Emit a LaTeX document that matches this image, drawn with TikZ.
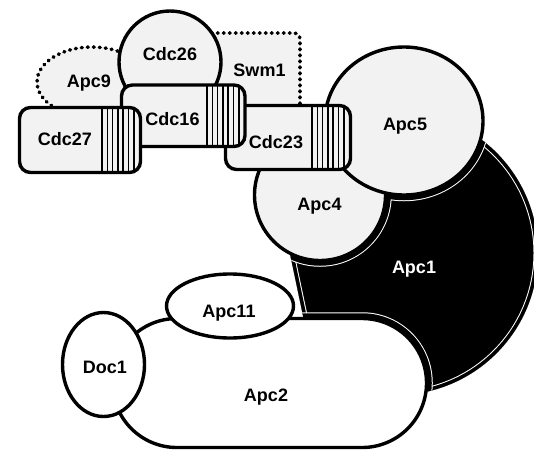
\documentclass[tikz,border=0pt]{standalone}
\usepackage{fontspec}
\setsansfont{Liberation Sans}
\usepackage{tikz}
\tikzset{every picture/.prefix style={execute at begin picture={\sffamily}},
         every node/.append style={execute at begin node={\sffamily\bfseries}}}
\definecolor{speck}{gray}{0.95}
\begin{document}
\begin{tikzpicture}[x=1pt,y=-1pt,line width=3.4pt,
  lab/.style={font=\fontsize{18}{18}\selectfont,inner sep=0pt,anchor=base},
  sub/.style={fill=speck,draw=black},
  bare/.style={fill=white,draw=black},
  dots/.style={fill=speck,draw=black,line width=3.6pt,dash pattern=on 0.8pt off 5.2pt,line cap=round},
  halo/.style={draw=white,line width=12.5pt},
  rim/.style={draw=black,line width=10.5pt}]
\path[use as bounding box,clip] (0,0) rectangle (534,450);
\fill[white] (0,0) rectangle (534,450);
% Apc1: dark disc cut on its left side
\begin{scope}
\clip (396,253) circle [radius=142];
\clip (245,40) -- (306,330) -- (700,700) -- (700,-100) -- cycle;
\fill[black] (0,0) rectangle (534,450);
\draw[white,line width=9pt] (396,253) circle [radius=142] (245,40) -- (306,330);
\draw[black,line width=7pt] (396,253) circle [radius=142] (245,40) -- (306,330);
\path[halo] (320,195) circle [radius=65.5] (404,121) ellipse [x radius=79,y radius=74] (230,306) ellipse [x radius=63.5,y radius=32];
\path[halo,rounded corners=64.4pt] (112.5,318.5) rectangle (426.5,447.5);
\path[rim] (320,195) circle [radius=65.5] (404,121) ellipse [x radius=79,y radius=74] (230,306) ellipse [x radius=63.5,y radius=32];
\path[rim,rounded corners=64.4pt] (112.5,318.5) rectangle (426.5,447.5);
\end{scope}
\node[lab,text=white] (apc1) at (414,273) {Apc1};
% lower subunits
\draw[bare,rounded corners=64.4pt] (112.5,318.5) rectangle (426.5,447.5);
\draw[bare] (230,306) ellipse [x radius=63.5,y radius=32];
\draw[bare] (103.5,364.5) ellipse [x radius=41,y radius=52];
\node[lab] (apc2) at (266,401) {Apc2};
\node[lab] (apc11) at (229,317) {Apc11};
\node[lab] (doc1) at (105,373.5) {Doc1};
% upper subunits
\draw[dots] (92,82) ellipse [x radius=55,y radius=35];
\draw[dots,rounded corners=6pt] (190,33) rectangle (300,115);
\draw[sub] (320,195) circle [radius=65.5];
\draw[sub] (404,121) ellipse [x radius=79,y radius=74];
\draw[sub] (170,62) circle [radius=51];
\foreach \xa/\ya/\xb/\yb/\sx in {225.5/105.5/350.5/169.5/312, 121.5/85/245/146.5/207, 19.5/107.5/140.5/172.5/102}{
  \fill[speck,rounded corners=11pt] (\xa,\ya) rectangle (\xb,\yb);
  \begin{scope}
  \clip[rounded corners=11pt] (\xa,\ya) rectangle (\xb,\yb);
  \foreach \s in {0,...,6} \draw[line width=1.6pt] (\sx+\s*5.3,\ya) -- (\sx+\s*5.3,\yb);
  \end{scope}
  \draw[rounded corners=11pt] (\xa,\ya) rectangle (\xb,\yb);
}
\node[lab] (apc9) at (89,87) {Apc9};
\node[lab] (swm1) at (259.5,76.5) {Swm1};
\node[lab] (cdc26) at (170,60) {Cdc26};
\node[lab] (cdc16) at (172.5,125) {Cdc16};
\node[lab] (cdc27) at (65,145) {Cdc27};
\node[lab] (cdc23) at (276,148) {Cdc23};
\node[lab] (apc5) at (405,130) {Apc5};
\node[lab] (apc4) at (319.5,210) {Apc4};
\end{tikzpicture}
\end{document}
